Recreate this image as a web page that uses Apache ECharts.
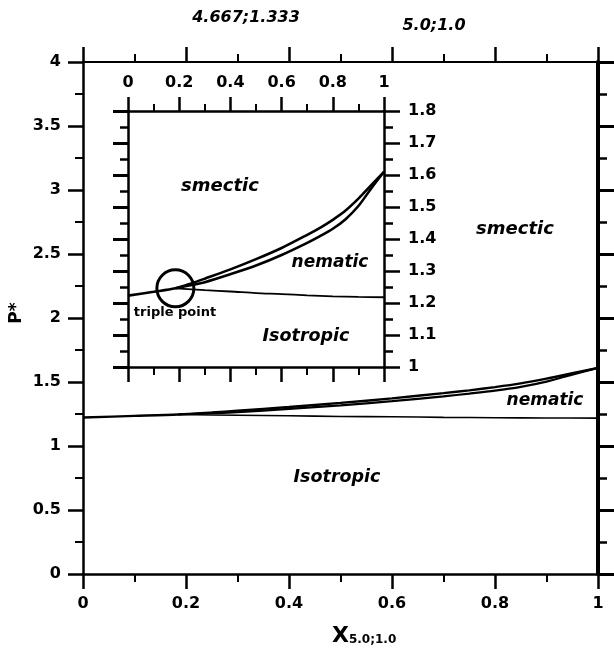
<!DOCTYPE html>
<html>
<head>
<meta charset="utf-8">
<script src="https://cdn.jsdelivr.net/npm/echarts@6/dist/echarts.min.js"></script>
<style>
  html, body { margin: 0; padding: 0; background: #fff; }
  #chart { width: 614px; height: 651px; }
</style>
</head>
<body>
<div id="chart"></div>
<script>
// Phase boundaries, pressure P* against mole fraction x(5.0;1.0)
const smecticX = [0, 0.1, 0.185, 0.25, 0.3, 0.4, 0.5, 0.6, 0.7, 0.75, 0.8, 0.85, 0.9, 0.95, 1];
const smecticP = [1.223, 1.235, 1.246, 1.262, 1.276, 1.305, 1.337, 1.372, 1.413, 1.435, 1.46, 1.489, 1.526, 1.568, 1.61];
const nematicX = [0.185, 0.25, 0.3, 0.4, 0.5, 0.6, 0.7, 0.75, 0.8, 0.85, 0.9, 0.95, 1];
const nematicP = [1.246, 1.256, 1.265, 1.29, 1.317, 1.35, 1.388, 1.409, 1.432, 1.462, 1.503, 1.558, 1.61];
const isoX = [0.185, 0.3, 0.4, 0.5, 0.6, 0.7, 0.8, 0.9, 1];
const isoP = [1.246, 1.24, 1.236, 1.231, 1.228, 1.224, 1.221, 1.219, 1.218];
const triplePoint = [0.185, 1.246];

const mainXTicks = [0, 0.2, 0.4, 0.6, 0.8, 1];
const mainYTicks = [0, 0.5, 1, 1.5, 2, 2.5, 3, 3.5, 4];
const insetYTicks = [1, 1.1, 1.2, 1.3, 1.4, 1.5, 1.6, 1.7, 1.8];

const pairs = (xs, ys) => xs.map((x, i) => [x, ys[i]]);
const FONT = 'DejaVu Sans';
const fmt = v => String(+v.toFixed(2));

function axis(opts) {
  return Object.assign({
    type: 'value',
    splitLine: { show: false },
    axisLine: { show: true, onZero: false, lineStyle: { color: '#000', width: 2.5 } },
    axisTick: { show: true, inside: false, length: 15, lineStyle: { color: '#000', width: 2.5 } },
    minorTick: { show: true, splitNumber: 2, length: 8, lineStyle: { color: '#000', width: 2 } },
    minorSplitLine: { show: false },
    axisLabel: { show: false, color: '#000', fontFamily: FONT, fontWeight: 'bold', fontSize: 16, formatter: fmt }
  }, opts);
}

const lineSeries = (name, data, xi, yi, w) => ({
  name, type: 'line', data, xAxisIndex: xi, yAxisIndex: yi,
  smooth: 0.3, showSymbol: false, symbol: 'none', silent: true,
  lineStyle: { color: '#000', width: w, opacity: 1 }, z: 5
});

const regionText = (text, x, y, size) => ({
  type: 'text', x, y, silent: true,
  style: { text, fill: '#000', font: `italic bold ${size}px "${FONT}"`, align: 'center', verticalAlign: 'middle' }
});

const chart = echarts.init(document.getElementById('chart'), null, { renderer: 'canvas' });
chart.setOption({
  animation: false,
  backgroundColor: '#fff',
  grid: [
    { left: 83, top: 62, width: 515, height: 512, outerBoundsMode: 'none' },
    { left: 128, top: 111, width: 256, height: 256, outerBoundsMode: 'none' }
  ],
  xAxis: [
    axis({ gridIndex: 0, position: 'bottom', min: 0, max: 1, interval: 0.2,
      axisLabel: { show: true, margin: 22, color: '#000', fontFamily: FONT, fontWeight: 'bold', fontSize: 16,
        formatter: v => mainXTicks.includes(+v.toFixed(2)) ? fmt(v) : '' } }),
    axis({ gridIndex: 0, position: 'top', min: 0, max: 1, interval: 0.2,
      axisLine: { show: true, onZero: false, lineStyle: { color: '#000', width: 2 } } }),
    axis({ gridIndex: 1, position: 'top', min: 0, max: 1, interval: 0.2,
      axisTick: { show: true, inside: false, length: 14, lineStyle: { color: '#000', width: 2.5 } },
      minorTick: { show: true, splitNumber: 2, length: 7, lineStyle: { color: '#000', width: 2 } },
      axisLabel: { show: true, margin: 20, color: '#000', fontFamily: FONT, fontWeight: 'bold', fontSize: 16, formatter: fmt } }),
    axis({ gridIndex: 1, position: 'bottom', min: 0, max: 1, interval: 0.2,
      axisTick: { show: true, inside: false, length: 15, lineStyle: { color: '#000', width: 2.5 } },
      minorTick: { show: true, splitNumber: 2, length: 8, lineStyle: { color: '#000', width: 2 } } })
  ],
  yAxis: [
    axis({ gridIndex: 0, position: 'left', min: 0, max: 4, interval: 0.5,
      axisLabel: { show: true, margin: 22, color: '#000', fontFamily: FONT, fontWeight: 'bold', fontSize: 16,
        formatter: v => mainYTicks.includes(+v.toFixed(2)) ? fmt(v) : '' } }),
    axis({ gridIndex: 0, position: 'right', min: 0, max: 4, interval: 0.5,
      axisLine: { show: true, onZero: false, lineStyle: { color: '#000', width: 4 } },
      axisTick: { show: true, inside: false, length: 16, lineStyle: { color: '#000', width: 3 } },
      minorTick: { show: true, splitNumber: 2, length: 9, lineStyle: { color: '#000', width: 2.5 } } }),
    axis({ gridIndex: 1, position: 'left', min: 1, max: 1.8, interval: 0.1,
      axisTick: { show: true, inside: false, length: 15, lineStyle: { color: '#000', width: 3 } },
      minorTick: { show: true, splitNumber: 2, length: 8, lineStyle: { color: '#000', width: 2.5 } } }),
    axis({ gridIndex: 1, position: 'right', min: 1, max: 1.8, interval: 0.1,
      axisTick: { show: true, inside: false, length: 16, lineStyle: { color: '#000', width: 2.5 } },
      minorTick: { show: true, splitNumber: 2, length: 9, lineStyle: { color: '#000', width: 2.5 } },
      axisLabel: { show: true, margin: 24, color: '#000', fontFamily: FONT, fontWeight: 'bold', fontSize: 16,
        formatter: v => insetYTicks.includes(+v.toFixed(2)) ? fmt(v) : '' } })
  ],
  series: [
    // full-range diagram
    lineSeries('smectic boundary', pairs(smecticX, smecticP), 0, 0, 2.4),
    lineSeries('nematic boundary', pairs(nematicX, nematicP), 0, 0, 2.2),
    lineSeries('isotropic boundary', pairs(isoX, isoP), 0, 0, 1.6),
    // enlarged view
    lineSeries('smectic boundary', pairs(smecticX, smecticP), 2, 3, 2.6),
    lineSeries('nematic boundary', pairs(nematicX, nematicP), 2, 3, 2.6),
    lineSeries('isotropic boundary', pairs(isoX, isoP), 2, 3, 1.8),
    {
      name: 'triple point', type: 'scatter', xAxisIndex: 2, yAxisIndex: 3,
      data: [triplePoint], symbol: 'circle', symbolSize: 37, silent: true,
      itemStyle: { color: 'rgba(0,0,0,0)', borderColor: '#000', borderWidth: 3, opacity: 1 }, z: 6
    }
  ],
  graphic: [
    { type: 'text', x: 246, y: 18, silent: true,
      style: { text: '4.667;1.333', fill: '#000', font: `italic bold 16px "${FONT}"`, align: 'center', verticalAlign: 'middle' } },
    { type: 'text', x: 434, y: 26, silent: true,
      style: { text: '5.0;1.0', fill: '#000', font: `italic bold 16px "${FONT}"`, align: 'center', verticalAlign: 'middle' } },
    { type: 'text', x: 17, y: 313, rotation: Math.PI / 2, silent: true,
      style: { text: 'P*', fill: '#000', font: `bold 17px "${FONT}"`, align: 'center', verticalAlign: 'middle' } },
    { type: 'text', x: 332, y: 636, silent: true,
      style: {
        text: '{a|X}{b|5.0;1.0}', align: 'left', verticalAlign: 'middle',
        rich: {
          a: { fontFamily: FONT, fontWeight: 'bold', fontSize: 22, fill: '#000', color: '#000' },
          b: { fontFamily: FONT, fontWeight: 'bold', fontSize: 12, fill: '#000', color: '#000', padding: [8, 0, 0, 0] }
        }
      } },
    regionText('smectic', 515, 229, 18),
    regionText('nematic', 545, 401, 17),
    regionText('Isotropic', 337, 477, 17.5),
    regionText('smectic', 220, 186, 18),
    regionText('nematic', 330, 263, 17),
    regionText('Isotropic', 306, 336, 17.5),
    { type: 'text', x: 175, y: 313, silent: true,
      style: { text: 'triple point', fill: '#000', font: `bold 13px "${FONT}"`, align: 'center', verticalAlign: 'middle' } }
  ]
});
</script>
</body>
</html>
